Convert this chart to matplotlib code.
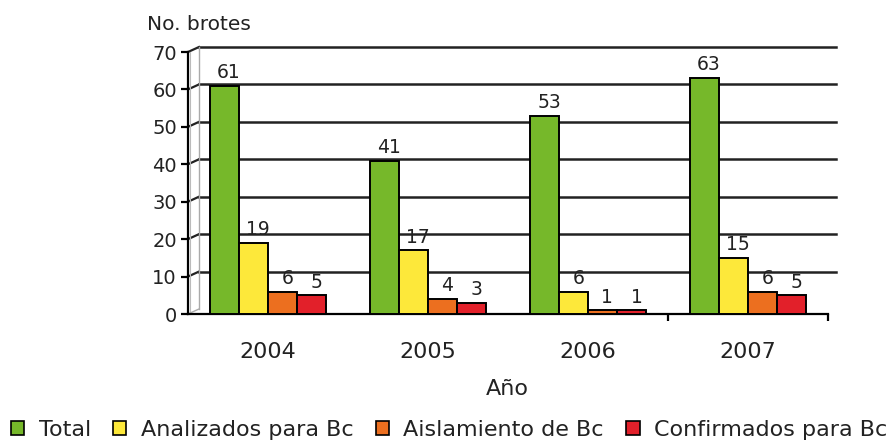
import matplotlib
matplotlib.use("Agg")
import matplotlib.pyplot as plt
import numpy as np
from matplotlib.patches import Patch

years = ["2004", "2005", "2006", "2007"]
series_names = ["Total", "Analizados para Bc", "Aislamiento de Bc", "Confirmados para Bc"]
total = [61, 41, 53, 63]
analizados = [19, 17, 6, 15]
aislamiento = [6, 4, 1, 6]
confirmados = [5, 3, 1, 5]
yticks = [0, 10, 20, 30, 40, 50, 60, 70]
colors = ["#76b82a", "#fde83a", "#ec6f1f", "#e2202a"]

plt.rcParams['font.family'] = ['DejaVu Sans']
W, H = 893, 443
fig = plt.figure(figsize=(W / 100, H / 100), dpi=100)
x0, x1, y0, y1 = 188, 828, 314, 52
ax = fig.add_axes([x0 / W, (H - y0) / H, (x1 - x0) / W, (y0 - y1) / H])
ax.set_xlim(-0.5, 3.5)
ax.set_ylim(0, 70)

# back wall grid (pseudo-3D)
ppu = (y0 - y1) / 70.0
dx_ax = 11 / (x1 - x0)
dy_dat = 5 / ppu
right_ax = (836 - x0) / (x1 - x0)
tr = ax.get_yaxis_transform()
for v in yticks[1:]:
    ax.plot([0, dx_ax], [v, v + dy_dat], color="#222222", lw=1.6, transform=tr, clip_on=False, zorder=1)
    ax.plot([dx_ax, right_ax], [v + dy_dat, v + dy_dat], color="#222222", lw=1.8, transform=tr, clip_on=False, zorder=1)
# left wall
ax.plot([dx_ax, dx_ax], [dy_dat, 70 + dy_dat], color="#aaaaaa", lw=1.0, transform=tr, clip_on=False, zorder=1)
ax.plot([0.003, 0.003], [0, 70], color="#bbbbbb", lw=0.8, transform=tr, clip_on=False, zorder=1)
ax.plot([0, dx_ax], [0, dy_dat], color="#aaaaaa", lw=1.0, transform=tr, clip_on=False, zorder=1)

x = np.arange(len(years))
bw = 0.182
series = [total, analizados, aislamiento, confirmados]
for i, (vals, c, name) in enumerate(zip(series, colors, series_names)):
    pos = x + (i - 1.5) * bw
    ax.bar(pos, vals, width=bw, color=c, edgecolor="black", linewidth=1.4, zorder=3, label=name)
    for p, v in zip(pos, vals):
        ax.text(p + 0.03, v + 1.0, str(v), ha="center", va="bottom", fontsize=13.5, color="#222222", zorder=4)

for s in ["top", "right"]:
    ax.spines[s].set_visible(False)
ax.spines["left"].set_linewidth(1.6)
ax.spines["bottom"].set_linewidth(1.6)
ax.spines["left"].set_zorder(5)
ax.set_yticks(yticks)
ax.tick_params(axis="y", direction="out", length=5, width=1.6, labelsize=14, pad=3, labelcolor="#222222")
ax.set_xticks(x)
ax.set_xticklabels(years)
ax.tick_params(axis="x", length=0, labelsize=16, pad=20, labelcolor="#222222")
ax.set_xticks([2.5, 3.5], minor=True)
ax.tick_params(axis="x", which="minor", direction="out", length=5, width=1.6)

fig.text(147 / W, 1 - 25 / H, "No. brotes", fontsize=14.5, ha="left", va="center", color="#222222")
fig.text(507 / W, 1 - 389 / H, "Año", fontsize=16, ha="center", va="center", color="#222222")

leg_handles = [Patch(facecolor=c, edgecolor="black", linewidth=1.2) for c in colors]
fig.legend(leg_handles, series_names, loc="center", bbox_to_anchor=(449 / W, 1 - 430 / H), ncol=4,
           frameon=False, handlelength=0.6, handleheight=0.6, handletextpad=0.65,
           columnspacing=1.0, borderaxespad=0, borderpad=0,
           prop={"family": "DejaVu Sans", "size": 16}, labelcolor="#222222")

fig.savefig("out.png", dpi=100)
